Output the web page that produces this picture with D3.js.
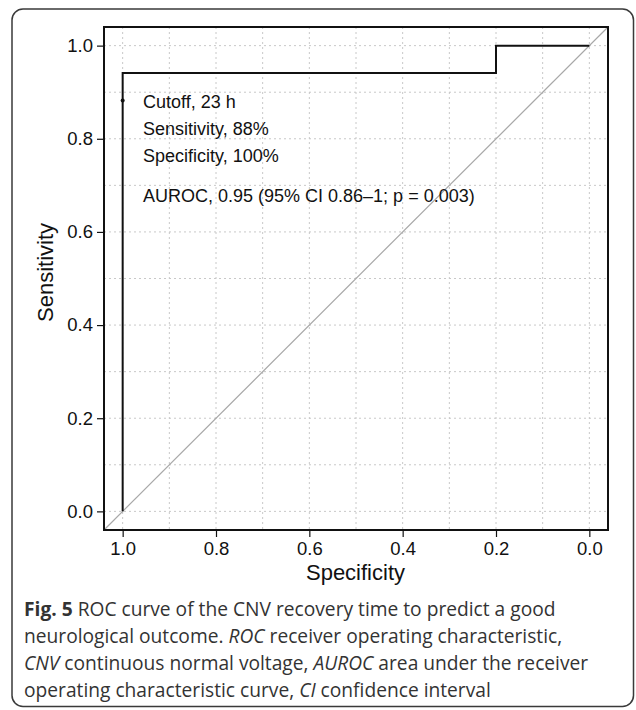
<!DOCTYPE html>
<html>
<head>
<meta charset="utf-8">
<script src="https://cdn.jsdelivr.net/npm/d3@7/dist/d3.min.js"></script>
<style>
  html, body { margin: 0; padding: 0; background: #fff; }
  svg { display: block; }
</style>
</head>
<body>
<svg id="chart" width="636" height="710"></svg>
<script>
// ---- data ----
const rocSpecificity = [1.0, 1.0, 0.2, 0.2, 0.0];
const rocSensitivity = [0.0, 0.941, 0.941, 1.0, 1.0];
const cutoffPoint = [1.0, 0.882];
const tickValues = [0.0, 0.2, 0.4, 0.6, 0.8, 1.0];
const gridValues = [0.0, 0.1, 0.2, 0.3, 0.4, 0.5, 0.6, 0.7, 0.8, 0.9, 1.0];
const annotationLines = ["Cutoff, 23 h", "Sensitivity, 88%", "Specificity, 100%"];
const aurocText = "AUROC, 0.95 (95% CI 0.86\u20131; p = 0.003)";
const xTitle = "Specificity";
const yTitle = "Sensitivity";
const captionLines = [
  [{t: "Fig. 5", b: true}, {t: " ROC curve of the CNV recovery time to predict a good"}],
  [{t: "neurological outcome. "}, {t: "ROC", i: true}, {t: " receiver operating characteristic,"}],
  [{t: "CNV", i: true}, {t: " continuous normal voltage, "}, {t: "AUROC", i: true}, {t: " area under the receiver"}],
  [{t: "operating characteristic curve, "}, {t: "CI", i: true}, {t: " confidence interval"}]
];

// ---- layout ----
const svg = d3.select("#chart");
const box = {left: 104, right: 608, top: 27, bottom: 530};
const x = d3.scaleLinear().domain([1.04, -0.04]).range([box.left, box.right]);
const y = d3.scaleLinear().domain([-0.04, 1.04]).range([box.bottom, box.top]);
const axisFont = "'Liberation Sans', Arial, sans-serif";

// outer rounded frame
svg.append("rect")
  .attr("x", 12).attr("y", 9).attr("width", 621.5).attr("height", 697.5)
  .attr("rx", 11).attr("ry", 11)
  .attr("fill", "none").attr("stroke", "#3a3a3a").attr("stroke-width", 1.5);

// grid
const grid = svg.append("g").attr("stroke", "#c8c8c8").attr("stroke-width", 1)
  .attr("stroke-dasharray", "2,3");
grid.selectAll("line.v").data(gridValues).enter().append("line")
  .attr("x1", d => x(d)).attr("x2", d => x(d))
  .attr("y1", box.top).attr("y2", box.bottom);
grid.selectAll("line.h").data(gridValues).enter().append("line")
  .attr("y1", d => y(d)).attr("y2", d => y(d))
  .attr("x1", box.left).attr("x2", box.right);

// diagonal reference line
svg.append("line")
  .attr("x1", x(1.04)).attr("y1", y(-0.04))
  .attr("x2", x(-0.04)).attr("y2", y(1.04))
  .attr("stroke", "#a8a8a8").attr("stroke-width", 1.2);

// ROC curve
const rocData = rocSpecificity.map((s, i) => [s, rocSensitivity[i]]);
svg.append("path")
  .datum(rocData)
  .attr("d", d3.line().x(d => x(d[0])).y(d => y(d[1])))
  .attr("fill", "none").attr("stroke", "#111").attr("stroke-width", 2);

// cutoff point
svg.append("circle")
  .attr("cx", x(cutoffPoint[0])).attr("cy", y(cutoffPoint[1]))
  .attr("r", 2).attr("fill", "#111");

// plot box
svg.append("rect")
  .attr("x", box.left).attr("y", box.top)
  .attr("width", box.right - box.left).attr("height", box.bottom - box.top)
  .attr("fill", "none").attr("stroke", "#111").attr("stroke-width", 2);

// axes
const fmt = d3.format(".1f");
const yAxis = svg.append("g").attr("transform", `translate(${box.left},0)`)
  .call(d3.axisLeft(y).tickValues(tickValues).tickFormat(fmt).tickSize(7).tickSizeOuter(0).tickPadding(4));
const xAxis = svg.append("g").attr("transform", `translate(0,${box.bottom})`)
  .call(d3.axisBottom(x).tickValues(tickValues).tickFormat(fmt).tickSize(7).tickSizeOuter(0).tickPadding(5));
[xAxis, yAxis].forEach(a => {
  a.select(".domain").remove();
  a.selectAll(".tick line").attr("stroke", "#111").attr("stroke-width", 1.2);
  a.selectAll(".tick text").attr("fill", "#111").style("font-family", axisFont).style("font-size", "18.5px");
});

// axis titles
svg.append("text")
  .attr("x", 355.5).attr("y", 580)
  .attr("text-anchor", "middle").attr("fill", "#111")
  .style("font-family", axisFont).style("font-size", "22px")
  .text(xTitle);
svg.append("text")
  .attr("transform", `translate(53,272.5) rotate(-90)`)
  .attr("text-anchor", "middle").attr("fill", "#111")
  .style("font-family", axisFont).style("font-size", "22px")
  .text(yTitle);

// annotations
const ann = svg.append("g").style("font-family", axisFont).style("font-size", "18px").attr("fill", "#111");
ann.selectAll("text.l").data(annotationLines).enter().append("text")
  .attr("x", 143).attr("y", (d, i) => 108 + i * 26.8)
  .text(d => d);
ann.append("text").attr("x", 143).attr("y", 201.5).text(aurocText);

// caption
const cap = svg.append("g").style("font-family", "'Open Sans', sans-serif").style("font-size", "19.2px").attr("fill", "#333");
captionLines.forEach((parts, i) => {
  const t = cap.append("text").attr("x", 24).attr("y", 616 + i * 27);
  parts.forEach(p => {
    t.append("tspan").text(p.t)
      .style("font-weight", p.b ? "bold" : "normal")
      .style("font-style", p.i ? "italic" : "normal");
  });
});
</script>
</body>
</html>
